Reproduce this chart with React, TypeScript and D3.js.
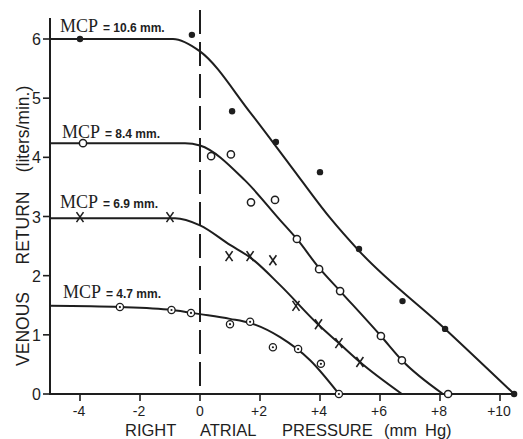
import React from "react";
import * as d3 from "d3";

// Measured points (x = right atrial pressure mm Hg, y = venous return L/min)
const mcp106Points: [number, number][] = [
  [-4, 6.0], [-0.27, 6.07], [1.07, 4.78], [2.53, 4.26], [4.0, 3.75],
  [5.3, 2.45], [6.75, 1.57], [8.17, 1.1], [10.47, 0],
];
const mcp84Points: [number, number][] = [
  [-3.9, 4.24], [0.37, 4.02], [1.03, 4.05], [1.7, 3.24], [2.5, 3.28],
  [3.23, 2.62], [3.97, 2.11], [4.67, 1.74], [6.03, 0.98], [6.73, 0.57], [8.27, 0],
];
const mcp69Points: [number, number][] = [
  [-4, 2.99], [-1, 2.99], [0.97, 2.33], [1.67, 2.33], [2.43, 2.26],
  [3.2, 1.49], [3.95, 1.18], [4.63, 0.86], [5.33, 0.54],
];
const mcp47Points: [number, number][] = [
  [-2.67, 1.47], [-0.95, 1.42], [-0.3, 1.37], [1.0, 1.18], [1.67, 1.22],
  [2.43, 0.79], [3.27, 0.76], [4.03, 0.51], [4.63, 0],
];

// Hand-drawn fitted curves
const mcp106Curve: [number, number][] = [
  [-5, 6.0], [-0.9, 6.0], [0, 5.79], [1.67, 4.76], [3.0, 3.87],
  [4.33, 2.98], [5.3, 2.42], [8.17, 1.1], [10.47, 0],
];
const mcp84Curve: [number, number][] = [
  [-5, 4.24], [-0.5, 4.24], [0, 4.2], [1.5, 3.61], [2.67, 2.94],
  [3.23, 2.62], [3.97, 2.13], [4.67, 1.74], [6.03, 0.98], [6.73, 0.57], [8.1, 0],
];
const mcp69Curve: [number, number][] = [
  [-5, 2.97], [-0.83, 2.97], [0, 2.85], [1, 2.52], [1.67, 2.31],
  [2.67, 1.84], [3.93, 1.18], [4.63, 0.86], [5.33, 0.54], [6.73, 0],
];
const mcp47Curve: [number, number][] = [
  [-5, 1.49], [-2.67, 1.47], [-0.93, 1.42], [0, 1.35], [1, 1.27],
  [1.67, 1.2], [2.67, 0.96], [3.67, 0.57], [4.63, 0],
];

const mcpLabels = ["= 10.6 mm.", "= 8.4 mm.", "= 6.9 mm.", "= 4.7 mm."];
const xTicks = [-4, -2, 0, 2, 4, 6, 8, 10];
const xTickLabels = ["-4", "-2", "0", "+2", "+4", "+6", "+8", "+10"];
const yTicks = [0, 1, 2, 3, 4, 5, 6];
const yTitleWords = ["VENOUS", "RETURN", "(liters/min.)"];

const INK = "#1e1e1e";

export default function App() {
  const x = d3.scaleLinear().domain([-5, 10.5]).range([50, 515]);
  const y = d3.scaleLinear().domain([0, 6]).range([394, 39]);
  const line = d3
    .line<[number, number]>()
    .x((d) => x(d[0]))
    .y((d) => y(d[1]))
    .curve(d3.curveMonotoneX);

  const curves = [mcp106Curve, mcp84Curve, mcp69Curve, mcp47Curve];
  const labelPos = [
    { x: 60, y: 32 },
    { x: 62, y: 138 },
    { x: 60, y: 208 },
    { x: 63, y: 298 },
  ];
  const yTitleCenters = [329, 228, 129];
  const sans = "'Liberation Sans', Arial, sans-serif";
  const serif = "'Liberation Serif', 'Times New Roman', serif";

  return (
    <svg
      width={523}
      height={439}
      style={{ position: "absolute", left: 0, top: 0, background: "#fff" }}
    >
      {/* axes */}
      <line x1={50} x2={50} y1={18} y2={395} stroke={INK} strokeWidth={2} />
      <line x1={49} x2={516} y1={394} y2={394} stroke={INK} strokeWidth={2} />
      {/* dashed zero line */}
      <line
        x1={x(0)}
        x2={x(0)}
        y1={10}
        y2={394}
        stroke={INK}
        strokeWidth={2}
        strokeDasharray="24,8"
      />
      {yTicks.map((t) => (
        <g key={"y" + t}>
          <line x1={43} x2={50} y1={y(t)} y2={y(t)} stroke={INK} strokeWidth={1.6} />
          <text
            x={41}
            y={y(t) + 6}
            textAnchor="end"
            fontFamily={sans}
            fontSize={16}
            fill={INK}
          >
            {t}
          </text>
        </g>
      ))}
      {xTicks.map((t, i) => (
        <g key={"x" + t}>
          <line x1={x(t)} x2={x(t)} y1={394} y2={401} stroke={INK} strokeWidth={1.6} />
          <text
            x={x(t) - (xTickLabels[i].length > 1 ? 1 : 0)}
            y={416}
            textAnchor="middle"
            fontFamily={sans}
            fontSize={14}
            fill={INK}
          >
            {xTickLabels[i]}
          </text>
        </g>
      ))}
      {/* axis titles */}
      <text fontFamily={sans} fontSize={16.5} fill={INK} y={436}>
        <tspan x={125}>RIGHT</tspan>
        <tspan x={200}>ATRIAL</tspan>
        <tspan x={282}>PRESSURE</tspan>
        <tspan x={384}>(mm</tspan>
        <tspan x={425}>Hg)</tspan>
      </text>
      {yTitleWords.map((w, i) => (
        <text
          key={"yt" + i}
          transform={`translate(29,${yTitleCenters[i]}) rotate(-90)`}
          textAnchor="middle"
          fontFamily={sans}
          fontSize={17.5}
          fill={INK}
        >
          {w}
        </text>
      ))}

      {/* curves */}
      {curves.map((c, i) => (
        <path key={"c" + i} d={line(c) || ""} fill="none" stroke={INK} strokeWidth={2} />
      ))}

      {/* MCP labels */}
      {mcpLabels.map((l, i) => (
        <text key={"l" + i} y={labelPos[i].y} fill={INK}>
          <tspan x={labelPos[i].x} fontFamily={serif} fontSize={18}>
            MCP
          </tspan>
          <tspan x={labelPos[i].x + 43} fontFamily={sans} fontSize={12} fontWeight={600}>
            {l}
          </tspan>
        </text>
      ))}

      {/* markers */}
      {mcp106Points.map((p, i) => (
        <circle key={"a" + i} cx={x(p[0])} cy={y(p[1])} r={3.2} fill={INK} />
      ))}
      {mcp84Points.map((p, i) => (
        <circle
          key={"b" + i}
          cx={x(p[0])}
          cy={y(p[1])}
          r={3.6}
          fill="#fff"
          stroke={INK}
          strokeWidth={1.5}
        />
      ))}
      {mcp69Points.map((p, i) => {
        const cx = x(p[0]);
        const cy = y(p[1]);
        return (
          <g key={"c" + i} stroke={INK} strokeWidth={1.6}>
            <line x1={cx - 3.5} y1={cy - 5} x2={cx + 3.5} y2={cy + 5} />
            <line x1={cx + 3.5} y1={cy - 5} x2={cx - 3.5} y2={cy + 5} />
          </g>
        );
      })}
      {mcp47Points.map((p, i) => (
        <g key={"d" + i}>
          <circle
            cx={x(p[0])}
            cy={y(p[1])}
            r={3.6}
            fill="#fff"
            stroke={INK}
            strokeWidth={1.3}
          />
          <circle cx={x(p[0])} cy={y(p[1])} r={1.1} fill={INK} />
        </g>
      ))}
    </svg>
  );
}
